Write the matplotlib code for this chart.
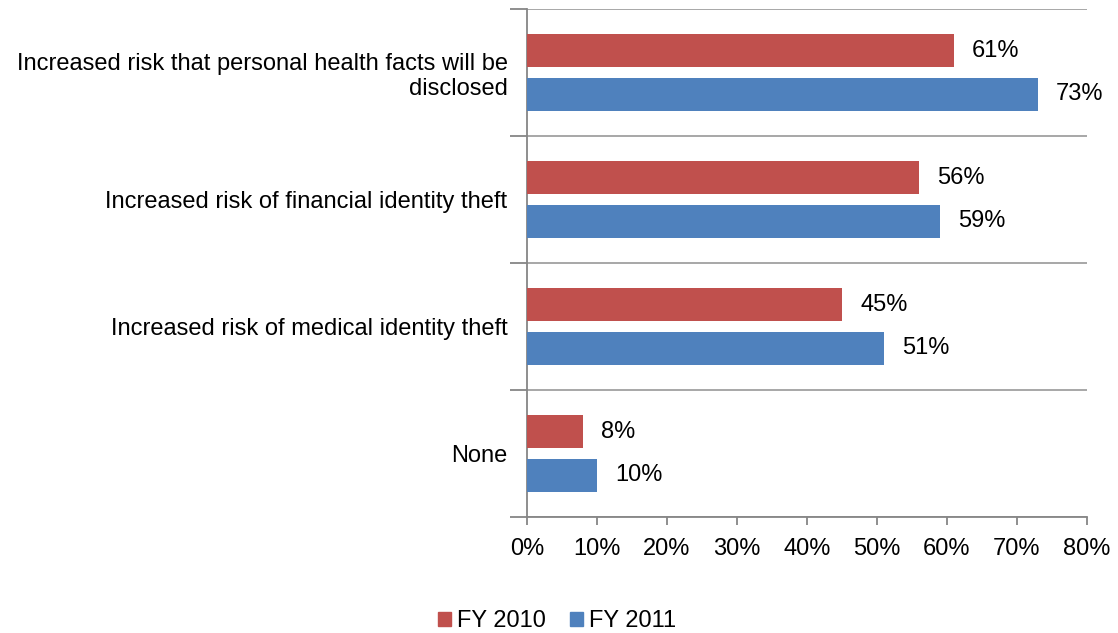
import matplotlib
matplotlib.use("Agg")
import matplotlib.pyplot as plt
import numpy as np
from matplotlib.patches import Patch

plt.rcParams['font.family'] = ['Liberation Sans', 'DejaVu Sans']

categories = ["Increased risk that personal health facts will be\ndisclosed",
              "Increased risk of financial identity theft",
              "Increased risk of medical identity theft",
              "None"]
fy2010 = [61, 56, 45, 8]
fy2011 = [73, 59, 51, 10]
series_names = ["FY 2010", "FY 2011"]
colors = ["#C0504D", "#4F81BD"]
xticks = [0, 10, 20, 30, 40, 50, 60, 70, 80]

FS = 17

fig = plt.figure(figsize=(11.18, 6.33), dpi=100)
ax = fig.add_axes([527/1118, 1 - 517/633, 560/1118, (517 - 9)/633])

n = len(categories)
y = np.arange(n)[::-1].astype(float)  # first category at top
off = 0.17
h = 0.26
ax.barh(y + off, fy2010, height=h, color=colors[0], zorder=3)
ax.barh(y - off, fy2011, height=h, color=colors[1], zorder=3)

for yi, v in zip(y + off, fy2010):
    ax.text(v + 2.6, yi, f"{v}%", va='center', ha='left', fontsize=FS)
for yi, v in zip(y - off, fy2011):
    ax.text(v + 2.6, yi, f"{v}%", va='center', ha='left', fontsize=FS)

ax.set_xlim(0, 80)
ax.set_ylim(-0.5, n - 0.5)
ax.set_xticks(xticks)
ax.set_xticklabels([f"{t}%" for t in xticks], fontsize=FS)

# category boundary gridlines
bounds = np.arange(-0.5, n, 1.0)
ax.set_yticks(bounds)
ax.set_yticklabels([])
ax.set_yticks(y, minor=True)
ax.set_yticklabels(categories, minor=True, fontsize=FS, ha='right')
ax.tick_params(axis='y', which='minor', length=0, pad=14)
ax.tick_params(axis='y', which='major', length=12, color='#868686', width=1.3)
ax.tick_params(axis='x', length=6, color='#868686', width=1.3, pad=9)
ax.grid(axis='y', which='major', color='#A0A0A0', linewidth=1.3, zorder=0)
for lbl in ax.get_yticklabels(minor=True):
    lbl.set_multialignment('right')

for s in ['top', 'right']:
    ax.spines[s].set_visible(False)
ax.spines['left'].set_color('#868686')
ax.spines['bottom'].set_color('#868686')
ax.spines['left'].set_linewidth(1.3)
ax.spines['bottom'].set_linewidth(1.3)

handles = [Patch(color=c, label=l) for c, l in zip(colors, series_names)]
fig.legend(handles=handles, loc='center', bbox_to_anchor=(557/1118, 1 - 621/633),
           ncol=2, frameon=False, fontsize=FS, handlelength=0.55, handleheight=0.55,
           handletextpad=0.25, columnspacing=1.0)

fig.savefig("out.png", dpi=100)
